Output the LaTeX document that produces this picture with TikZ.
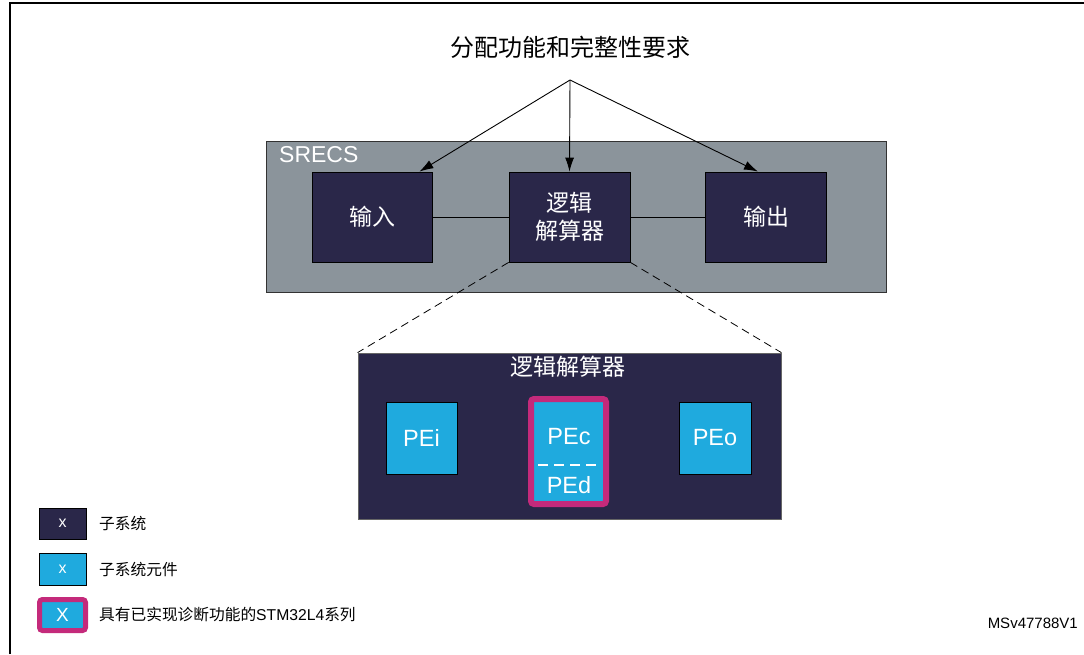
\documentclass[tikz,border=0pt]{standalone}
\usepackage{fontspec}
\setmainfont{Liberation Sans}
\newfontfamily\cjk{Noto Sans CJK SC}
\usetikzlibrary{arrows.meta}
\definecolor{navy}{HTML}{2A2749}
\definecolor{slate}{HTML}{8B949B}
\definecolor{cyanpe}{HTML}{1FAADE}
\definecolor{magpe}{HTML}{C42A7B}
\tikzset{
  subsys/.style={draw=black, line width=0.8pt, fill=navy, text=white, inner sep=0pt,
    minimum width=120pt, minimum height=90pt, font=\cjk\fontsize{23}{28}\selectfont, align=center},
  elem/.style={draw=black, line width=0.8pt, fill=cyanpe, text=white, inner sep=0pt,
    minimum width=71pt, minimum height=72pt, font=\fontsize{23.5}{28}\selectfont},
  diagbox/.style={draw=magpe, line width=6pt, rounded corners=3pt, fill=cyanpe, inner sep=0pt},
  arr/.style={line width=0.9pt, -{Latex[length=14pt,width=9pt]}},
  link/.style={line width=0.8pt},
  dashlink/.style={line width=0.8pt, dash pattern=on 8pt off 5pt},
  legtext/.style={anchor=west, inner sep=0pt, font=\fontsize{15.7}{18}\selectfont},
}
\begin{document}
\begin{tikzpicture}[x=1pt,y=-1pt]
\useasboundingbox (0,0) rectangle (1084,654);
% frame
\draw[line width=2pt] (10,654) -- (10,3) -- (1084,3);

% title
\node[inner sep=0pt, font=\cjk\fontsize{24}{28}\selectfont] (title) at (570,47) {分配功能和完整性要求};
\coordinate (apex) at (570,80);

% SRECS
\node[draw=black!80, line width=0.8pt, fill=slate, minimum width=620pt, minimum height=151pt, inner sep=0pt] (srecs) at (576,216.5) {};
\node[anchor=west, inner sep=0pt, text=white, font=\fontsize{23}{26}\selectfont] (srecslabel) at (279,155) {SRECS};

\node[subsys] (input) at (372,217) {输入};
\node[subsys, minimum width=121pt] (logic) at (569.5,217) {逻辑\\解算器};
\node[subsys, minimum width=121pt] (output) at (766,217) {输出};

\draw[link] (input.east) -- (logic.west);
\draw[link] (logic.east) -- (output.west);

\draw[arr] (apex) -- ([xshift=-13pt]input.north east);
\draw[arr] (apex) -- (logic.north);
\draw[arr] (apex) -- ([xshift=-8pt]output.north);

% expanded logic solver
\node[draw=black!60, line width=0.8pt, fill=navy, minimum width=423pt, minimum height=166pt, inner sep=0pt] (lower) at (569.5,436) {};
\node[inner sep=0pt, text=white, font=\cjk\fontsize{23}{28}\selectfont] (lowertitle) at (568,367) {逻辑解算器};

\draw[dashlink] (logic.south west) -- (lower.north west);
\draw[dashlink] (logic.south east) -- (lower.north east);

\node[elem] (pei) at (421.5,438) {PEi};
\node[elem, minimum width=72pt] (peo) at (715,438) {PEo};
\node[diagbox, minimum width=75pt, minimum height=105pt] (pecd) at (568.5,451.5) {};
\node[inner sep=0pt, text=white, font=\fontsize{23.5}{28}\selectfont] (pec) at (569,437) {PEc};
\node[inner sep=0pt, text=white, font=\fontsize{23.5}{28}\selectfont] (ped) at (569,485) {PEd};
\coordinate (dl) at (538,465);
\coordinate (dr) at (599,465);
\draw[white, line width=1.4pt, dash pattern=on 10pt off 6pt] (dl) -- (dr);

% legend
\node[draw=black, line width=0.8pt, fill=navy, text=white, minimum width=47pt, minimum height=31pt, inner sep=0pt, font=\fontsize{16}{18}\selectfont] (leg1) at (62.5,523.5) {x};
\node[legtext] (leg1t) at (99,523.5) {\cjk 子系统};
\node[draw=black, line width=0.8pt, fill=cyanpe, text=white, minimum width=47pt, minimum height=32pt, inner sep=0pt, font=\fontsize{16}{18}\selectfont] (leg2) at (62.5,569) {x};
\node[legtext] (leg2t) at (99,569) {\cjk 子系统元件};
\node[diagbox, line width=5pt, text=white, minimum width=46pt, minimum height=31pt, font=\fontsize{19}{20}\selectfont] (leg3) at (62.5,615) {X};
\node[legtext] (leg3t) at (99,615) {{\cjk 具有已实现诊断功能的}STM32L4{\cjk 系列}};

\node[anchor=east, inner sep=0pt, font=\fontsize{15}{18}\selectfont] (code) at (1078,623) {MSv47788V1};
\end{tikzpicture}
\end{document}
